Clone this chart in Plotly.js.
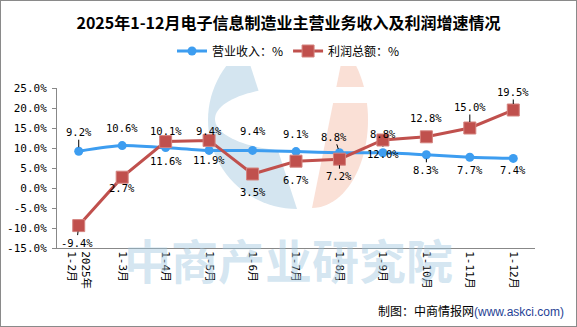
<!DOCTYPE html>
<html><head><meta charset="utf-8">
<script src="https://cdn.plot.ly/plotly-3.0.1.min.js"></script>
<style>
html,body{margin:0;padding:0;background:#fff;}
#wrap{position:relative;width:577px;height:327px;}
#chart{position:absolute;left:0;top:0;width:577px;height:327px;}
#frame{position:absolute;left:0;top:0;width:577px;height:327px;box-sizing:border-box;border:1px solid #8a8a8a;pointer-events:none;}
</style></head>
<body><div id="wrap"><div id="chart"></div><div id="frame"></div></div>
<script>
// ---- data ----
const categories = ['1-2月','1-3月','1-4月','1-5月','1-6月','1-7月','1-8月','1-9月','1-10月','1-11月','1-12月'];
const tickLabels = ['2025年<br>1-2月','1-3月','1-4月','1-5月','1-6月','1-7月','1-8月','1-9月','1-10月','1-11月','1-12月'];
const revenueGrowth = [9.2,10.6,10.1,9.4,9.4,9.1,8.8,8.8,8.3,7.7,7.4];
const profitGrowth  = [-9.4,2.7,11.6,11.9,3.5,6.7,7.2,12.0,12.8,15.0,19.5];
const seriesNames = ['营业收入：%','利润总额：%'];
const yTicks = [-15,-10,-5,0,5,10,15,20,25];
const yTickLabels = yTicks.map(v=>v.toFixed(1)+'%');

// ---- label placement (style) : [dx, dy, leader] ----
const revLabelPos = [[0,-19,1],[0,-18,0],[0,-17,0],[0,-19,0],[0,-19,0],[0,-18,0],[-5,-16,1],[0,-19,0],[0,15,1],[0,13,0],[0,12,0]];
const proLabelPos = [[-2,17,1],[0,11,0],[0,19,0],[0,20,0],[0,18,0],[0,19,0],[0,17,1],[0,14,1],[0,-19,0],[0,-21,1],[0,-18,1]];

const BLUE='#3d9df0', RED='#c0504d';
const numFont={family:"'DejaVu Sans Mono','Noto Sans CJK SC',monospace",size:10.5,color:'#000'};

function labels(vals,pos,standoff){
  return vals.map((v,i)=>({
    x:categories[i], y:v, xref:'x', yref:'y',
    text:v.toFixed(1)+'%', font:numFont,
    showarrow:true, arrowhead:0, arrowwidth:1, standoff:standoff,
    arrowcolor: pos[i][2] ? '#000' : 'rgba(0,0,0,0)',
    ax:pos[i][0], ay:pos[i][1]
  }));
}

// ---- watermark geometry helpers (pixel -> paper) ----
const PL=57, PR=535, PT=88, PB=248;
const pxn=x=>(x-PL)/(PR-PL);
const pyn=y=>(PB-y)/(PB-PT);
const px=x=>pxn(x).toFixed(4);
const py=y=>pyn(y).toFixed(4);
function halfEll(cx,cy,rx,ry,dir,clipTop){
  let d='';
  for(let i=0;i<=48;i++){
    const t=-Math.PI/2+Math.PI*i/48;
    let x=cx+dir*rx*Math.cos(t), y=cy+ry*Math.sin(t);
    if(y<clipTop){ y=clipTop; x=cx+dir*rx*Math.sqrt(Math.max(0,1-((clipTop-cy)/ry)**2)); }
    d+=(i?'L':'M')+px(x)+','+py(y);
  }
  return d+'Z';
}
const wmBlue='#d4e5f0', wmSalmon='#fae0d6';
const shapes=[
  {type:'path',xref:'paper',yref:'paper',layer:'below',path:halfEll(297,120,89,89,-1,48),fillcolor:wmBlue,line:{width:0}},
  {type:'path',xref:'paper',yref:'paper',layer:'below',path:halfEll(297,119,82,32,-1,0),fillcolor:'#fff',line:{width:0}},
  {type:'path',xref:'paper',yref:'paper',layer:'below',path:halfEll(312,120,56,88,1,48),fillcolor:wmSalmon,line:{width:0}},
  {type:'rect',xref:'paper',yref:'paper',layer:'below',x0:px(310),x1:px(372),y0:py(103),y1:py(87),fillcolor:'#fff',line:{width:0}}
];

const traces=[
  {x:categories,y:revenueGrowth,name:seriesNames[0],type:'scatter',mode:'lines+markers',
   line:{color:BLUE,width:3,shape:'spline',smoothing:0.6},marker:{symbol:'circle',size:9,color:BLUE},hoverinfo:'skip'},
  {x:categories,y:profitGrowth,name:seriesNames[1],type:'scatter',mode:'lines+markers',
   line:{color:RED,width:3},marker:{symbol:'square',size:12,color:RED,line:{color:'#d4837f',width:1}},hoverinfo:'skip'}
];

const annotations=[].concat(
  labels(revenueGrowth,revLabelPos,4),
  labels(profitGrowth,proLabelPos,6),
  [
    {xref:'paper',yref:'paper',x:pxn(288),y:pyn(258),xanchor:'center',yanchor:'middle',
     text:'<b>中商产业研究院</b>',showarrow:false,
     font:{family:"'Noto Sans CJK SC',sans-serif",size:47,color:'rgba(160,200,225,0.45)'}},
    {xref:'paper',yref:'paper',x:pxn(566),y:pyn(310),xanchor:'right',yanchor:'middle',showarrow:false,
     text:'制图：中商情报网<span style="color:#1f3f95;font-family:Liberation Sans,Arial">(www.askci.com)</span>',
     font:{family:"'Noto Sans CJK SC',sans-serif",size:12,color:'#000'}}
  ]
);

const layout={
  width:577,height:327,
  margin:{l:PL,r:577-PR,t:PT,b:327-PB,pad:0},
  paper_bgcolor:'#fff',plot_bgcolor:'rgba(0,0,0,0)',
  title:{text:'2025年1-12月电子信息制造业主营业务收入及利润增速情况',xref:'container',yref:'container',
    x:0.5,xanchor:'center',y:1-23/327,yanchor:'middle',
    font:{family:"'Noto Sans CJK SC',sans-serif",size:16,weight:700,color:'#000'}},
  legend:{orientation:'h',xref:'container',yref:'container',x:0.5,xanchor:'center',y:1-51/327,yanchor:'middle',
    bgcolor:'#fff',font:{family:"'Noto Sans CJK SC',sans-serif",size:12,color:'#000'},itemwidth:30,tracegroupgap:0},
  xaxis:{type:'category',range:[-0.5,10.5],tickvals:categories,ticktext:tickLabels,tickangle:90,
    showline:true,linecolor:'#888',linewidth:1,ticks:'',showgrid:false,zeroline:false,fixedrange:true,
    tickfont:{family:"'DejaVu Sans Mono','Noto Sans CJK SC',monospace",size:11,color:'#000'}},
  yaxis:{range:[-15,25],tickvals:yTicks,ticktext:yTickLabels,showline:true,linecolor:'#888',linewidth:1,
    ticks:'outside',ticklen:4,tickcolor:'#888',showgrid:false,zeroline:false,fixedrange:true,ticklabelstandoff:3,
    tickfont:{family:"'DejaVu Sans Mono','Noto Sans CJK SC',monospace",size:11,color:'#000'}},
  shapes:shapes,annotations:annotations,hovermode:false,showlegend:true
};
Plotly.newPlot('chart',traces,layout,{staticPlot:true,displayModeBar:false});
</script></body></html>
